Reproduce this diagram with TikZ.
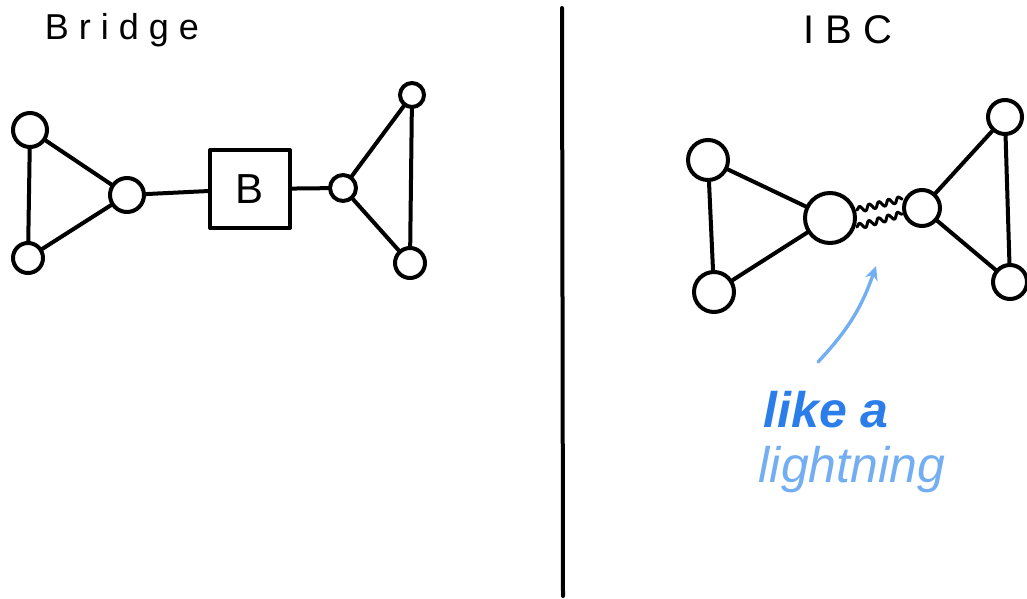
\documentclass[tikz,border=0pt]{standalone}
\usepackage{fontspec}
\setmainfont{Liberation Sans}
\usetikzlibrary{decorations.pathmorphing,arrows.meta}
\definecolor{inkblue}{HTML}{2B7DE9}
\definecolor{lightblue}{HTML}{74AEF2}
\tikzset{
  ink/.style={line width=4pt, line cap=round, line join=round, black},
  vert/.style={circle, draw, ink, inner sep=0pt},
  title/.style={font=\fontsize{36}{40}\selectfont},
  edge/.style={ink},
  wave/.style={ink, line width=3pt, decorate, decoration={snake, amplitude=3pt, segment length=10pt}},
  bluearrow/.style={draw=lightblue, line width=3.4pt, line cap=round, -{Stealth[length=14pt,width=13pt]}},
}
\begin{document}
\begin{tikzpicture}[x=1pt,y=-1pt]
\useasboundingbox (0,0) rectangle (1027,599);
% titles
\node[title] (t1) at (122,30) {B r i d g e};
\node[title, font=\fontsize{40}{44}\selectfont] (t2) at (848,30) {I B C};
% divider
\coordinate (dtop) at (562,8);
\coordinate (dbot) at (563,596);
\draw[ink] (dtop) -- (dbot);
% left graph
\node[vert, minimum size=34pt] (L1) at (30,130) {};
\node[vert, minimum size=30pt] (L2) at (28,258) {};
\node[vert, minimum size=34pt] (L3) at (127,195) {};
\node[draw, ink, minimum width=80pt, minimum height=78pt, font=\fontsize{42}{46}\selectfont] (B) at (250,189) {B};
\node[vert, minimum size=26pt] (L4) at (343,188) {};
\node[vert, minimum size=24pt] (L5) at (412,95) {};
\node[vert, minimum size=30pt] (L6) at (410,263) {};
\draw[edge] (L1) -- (L3);
\draw[edge] (L2) -- (L3);
\draw[edge] (L1) -- (L2);
\draw[edge] (L3) -- (B);
\draw[edge] (B) -- (L4);
\draw[edge] (L4) -- (L5);
\draw[edge] (L4) -- (L6);
\draw[edge] (L5) -- (L6);
% right graph
\node[vert, minimum size=40pt] (R1) at (708,160) {};
\node[vert, minimum size=40pt] (R2) at (714,292) {};
\node[vert, minimum size=50pt] (R3) at (830,218) {};
\node[vert, minimum size=36pt] (R4) at (922,208) {};
\node[vert, minimum size=34pt] (R5) at (1005,117) {};
\node[vert, minimum size=34pt] (R6) at (1010,282) {};
\draw[edge] (R1) -- (R2);
\draw[edge] (R1) -- (R3);
\draw[edge] (R2) -- (R3);
\draw[edge] (R4) -- (R5);
\draw[edge] (R4) -- (R6);
\draw[edge] (R5) -- (R6);
\draw[wave] ([yshift=-9pt]R3.east) -- ([yshift=-6pt]R4.west);
\draw[wave] ([yshift=8pt]R3.east) -- ([yshift=9pt]R4.west);
% annotation
\node[text=inkblue, font=\itshape\bfseries\fontsize{50}{54}\selectfont] (like) at (826,410) {like a};
\node[text=lightblue, font=\itshape\fontsize{50}{54}\selectfont] (light) at (852,470) {lightning};
\coordinate (tip) at (876,266);
\draw[bluearrow] (818,362) to[bend right=12] (tip);
\end{tikzpicture}
\end{document}
